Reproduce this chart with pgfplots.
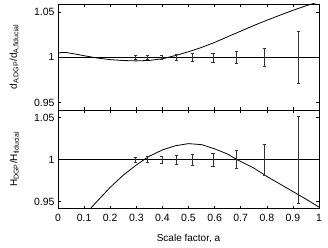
\documentclass[border=0pt]{standalone}
\usepackage{fontspec}
\setmainfont{Liberation Sans}
\usepackage{pgfplots}
\pgfplotsset{compat=1.18}
\usepackage{pgfplotstable}

\pgfplotstableread{
x y
0.000 1.0042
0.010 1.0052
0.020 1.0055
0.035 1.0052
0.050 1.0045
0.075 1.0032
0.100 1.0018
0.150 0.9993
0.200 0.9975
0.250 0.9965
0.300 0.9961
0.350 0.9966
0.400 0.9985
0.450 1.0020
0.500 1.0062
0.550 1.0110
0.600 1.0165
0.650 1.0228
0.700 1.0290
0.750 1.0352
0.800 1.0410
0.850 1.0466
0.900 1.0520
0.950 1.0570
1.000 1.0615
}\dAcurve

\pgfplotstableread{
x y
0.110 0.9370
0.125 0.9420
0.150 0.9505
0.200 0.9670
0.250 0.9815
0.300 0.9935
0.330 1.0000
0.350 1.0040
0.400 1.0115
0.450 1.0165
0.500 1.0190
0.550 1.0178
0.600 1.0128
0.650 1.0066
0.685 1.0000
0.700 0.9978
0.750 0.9900
0.800 0.9800
0.850 0.9710
0.900 0.9620
0.950 0.9530
1.000 0.9435
}\Hcurve

\pgfplotstableread{
x y e
0.298 1 0.0024
0.344 1 0.0024
0.398 1 0.0025
0.455 1 0.0030
0.516 1 0.0043
0.594 1 0.0050
0.685 1 0.0063
0.792 1 0.0100
0.922 1 0.0287
}\dAerr

\pgfplotstableread{
x y e
0.298 1 0.0030
0.344 1 0.0036
0.398 1 0.0043
0.455 1 0.0051
0.516 1 0.0062
0.594 1 0.0079
0.685 1 0.0109
0.792 1 0.0184
0.922 1 0.0520
}\Herr

\pgfplotsset{
  panel/.style={
    scale only axis,
    anchor=south west,
    width=261pt,
    xmin=0, xmax=1,
    ymin=0.9418, ymax=1.0590,
    xtick={0,0.1,0.2,0.3,0.4,0.5,0.6,0.7,0.8,0.9,1},
    ytick={0.95,1,1.05},
    tick align=inside,
    major tick length=3pt,
    axis line style={line width=0.7pt},
    every tick/.style={black, line width=0.5pt},
    /pgf/number format/assume math mode=true,
    tick label style={font=\fontsize{10.5}{12}\selectfont},
    label style={font=\fontsize{10.5}{12}\selectfont},
    every axis y label/.style={at={(axis description cs:-0.167,0.5)}, rotate=90, anchor=center},
  },
  ebars/.style={
    draw=none, mark=none,
    error bars/.cd, y dir=both, y explicit,
    error mark=|,
    error bar style={draw=black!80, line width=0.6pt},
    error mark options={draw=black!80, mark size=1.6pt, line width=0.6pt},
  },
}

\begin{document}
\begin{tikzpicture}[x=1pt,y=1pt]
\begin{axis}[panel, at={(58pt,137pt)}, height=106pt,
  xticklabels={},
  ylabel={d\textsubscript{A,DGP}/d\textsubscript{A,fiducial}},
]
\addplot[black, line width=0.8pt] coordinates {(0,1) (1,1)};
\addplot[black, line width=0.8pt] table[x=x,y=y] {\dAcurve};
\addplot[ebars] table[x=x,y=y,y error=e] {\dAerr};
\end{axis}
\begin{axis}[panel, at={(58pt,38.5pt)}, height=98.5pt,
  xticklabel style={yshift=-2pt},
  ylabel={H\textsubscript{DGP}/H\textsubscript{fiducial}},
  xlabel={Scale factor, a},
  every axis x label/.style={at={(axis description cs:0.5,-0.33)}, anchor=base},
]
\addplot[black, line width=0.8pt] coordinates {(0,1) (1,1)};
\addplot[black, line width=0.8pt] table[x=x,y=y] {\Hcurve};
\addplot[ebars] table[x=x,y=y,y error=e] {\Herr};
\end{axis}
\pgfresetboundingbox
\path[use as bounding box] (0,0) rectangle (328pt,247pt);
\end{tikzpicture}
\end{document}
